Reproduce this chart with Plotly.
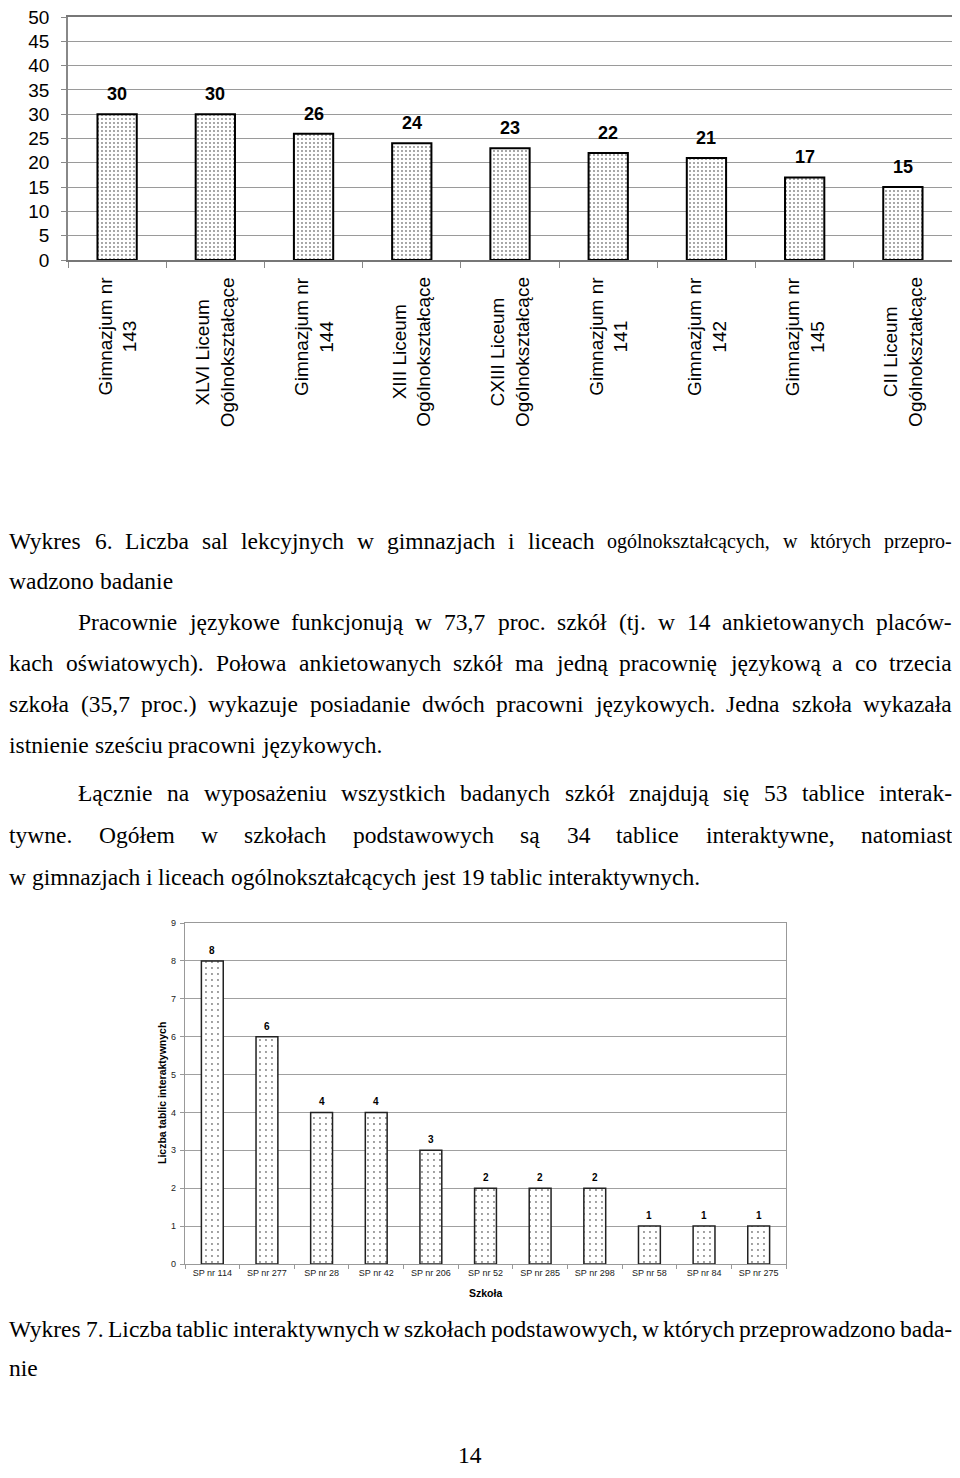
import plotly.graph_objects as go

# The page body has an 8px margin: figure is sized so that it fits the window exactly.
OFF = 8
W, H = 944, 1462
SANS = "Liberation Sans, Arial, sans-serif"
SERIF = "Liberation Serif, Times New Roman, serif"

# ---------------- data ----------------
schools1 = ["Gimnazjum nr 143", "XLVI Liceum Ogólnokształcące", "Gimnazjum nr 144",
            "XIII Liceum Ogólnokształcące", "CXIII Liceum Ogólnokształcące",
            "Gimnazjum nr 141", "Gimnazjum nr 142", "Gimnazjum nr 145",
            "CII Liceum Ogólnokształcące"]
labels1 = ["Gimnazjum nr<br>143", "XLVI Liceum<br>Ogólnokształcące", "Gimnazjum nr<br>144",
           "XIII Liceum<br>Ogólnokształcące", "CXIII Liceum<br>Ogólnokształcące",
           "Gimnazjum nr<br>141", "Gimnazjum nr<br>142", "Gimnazjum nr<br>145",
           "CII Liceum<br>Ogólnokształcące"]
rooms = [30, 30, 26, 24, 23, 22, 21, 17, 15]
yticks1 = [0, 5, 10, 15, 20, 25, 30, 35, 40, 45, 50]

schools2 = ["SP nr 114", "SP nr 277", "SP nr 28", "SP nr 42", "SP nr 206", "SP nr 52",
            "SP nr 285", "SP nr 298", "SP nr 58", "SP nr 84", "SP nr 275"]
boards = [8, 6, 4, 4, 3, 2, 2, 2, 1, 1, 1]
yticks2 = [0, 1, 2, 3, 4, 5, 6, 7, 8, 9]
ytitle2 = "Liczba tablic interaktywnych"
xtitle2 = "Szkoła"

text_lines = [
    "Wykres 6. Liczba sal lekcyjnych w gimnazjach i liceach ogólnokształcących, w których przepro-",
    "wadzono badanie",
    "Pracownie językowe funkcjonują w 73,7 proc. szkół (tj. w 14 ankietowanych placów-",
    "kach oświatowych). Połowa ankietowanych szkół ma jedną pracownię językową a co trzecia",
    "szkoła (35,7 proc.) wykazuje posiadanie dwóch pracowni językowych. Jedna szkoła wykazała",
    "istnienie sześciu pracowni językowych.",
    "Łącznie na wyposażeniu wszystkich badanych szkół znajdują się 53 tablice interak-",
    "tywne. Ogółem w szkołach podstawowych są 34 tablice interaktywne, natomiast",
    "w gimnazjach i liceach ogólnokształcących jest 19 tablic interaktywnych.",
    "Wykres 7. Liczba tablic interaktywnych w szkołach podstawowych, w których przeprowadzono bada-",
    "nie",
]
page_number = "14"

# layout of the text lines (page px): (center y, left x, justified, index of first smaller word)
line_layout = [
    (541, 8, True, 9), (581, 8, False, None), (622, 77, True, None), (663, 8, True, None),
    (704, 8, True, None), (745, 8, False, None), (793, 77, True, None), (835, 8, True, None),
    (877, 8, False, None), (1329, 8, True, None), (1368, 8, False, None),
]
RIGHT = 951
FS = 23.5
FS_SMALL = 20

# Times metrics (per 1000 em)
TM = {' ': 250, 'a': 444, 'b': 500, 'c': 444, 'd': 500, 'e': 444, 'f': 333, 'g': 500, 'h': 500,
      'i': 278, 'j': 278, 'k': 500, 'l': 278, 'm': 778, 'n': 500, 'o': 500, 'p': 500, 'q': 500,
      'r': 333, 's': 389, 't': 278, 'u': 500, 'v': 500, 'w': 722, 'x': 500, 'y': 500, 'z': 444,
      'W': 944, 'L': 611, 'P': 556, 'J': 389, 'O': 722, 'Ł': 611, 'ą': 444, 'ę': 444, 'ó': 500,
      'ś': 389, 'ł': 278, 'ż': 444, 'ć': 444, 'ń': 500, 'ź': 444, '.': 250, ',': 250, '(': 333,
      ')': 333, '-': 333}


def tw(s, size):
    return sum(TM.get(ch, 500) for ch in s) / 1000.0 * size


def px(xpage):
    return (xpage - OFF) / W


def py(ypage):
    return (H - (ypage - OFF)) / H


fig = go.Figure()

fig.add_trace(go.Bar(
    x=schools1, y=rooms, xaxis="x", yaxis="y", width=0.4,
    marker=dict(color="white", line=dict(color="black", width=2),
                pattern=dict(shape=".", size=4, solidity=0.16, fgcolor="black",
                             bgcolor="white", fillmode="overlay")),
    showlegend=False, hoverinfo="x+y"))

fig.add_trace(go.Bar(
    x=schools2, y=boards, xaxis="x2", yaxis="y2", width=0.4,
    marker=dict(color="white", line=dict(color="#222", width=1.5),
                pattern=dict(shape=".", size=6, solidity=0.08, fgcolor="black",
                             bgcolor="white", fillmode="overlay")),
    showlegend=False, hoverinfo="x+y"))

ann = []
# value labels chart 1
for s, v in zip(schools1, rooms):
    ann.append(dict(x=s, y=v, xref="x", yref="y", text=str(v), showarrow=False,
                    yanchor="bottom", yshift=8, font=dict(family=SANS, size=18, color="black",
                                                          weight="bold")))
# category labels chart 1
for s, lab in zip(schools1, labels1):
    ann.append(dict(x=s, y=py(275), xref="x", yref="paper", text=lab, showarrow=False,
                    textangle=-90, yanchor="top", xanchor="center", align="center",
                    font=dict(family=SANS, size=19, color="black")))
# value labels chart 2
for s, v in zip(schools2, boards):
    ann.append(dict(x=s, y=v, xref="x2", yref="y2", text=str(v), showarrow=False,
                    yanchor="bottom", yshift=3, font=dict(family=SANS, size=10, color="black",
                                                          weight="bold")))
ann.append(dict(x=px(162), y=py(1093), xref="paper", yref="paper", text=ytitle2,
                showarrow=False, textangle=-90, xanchor="center", yanchor="middle",
                font=dict(family=SANS, size=10.5, color="black", weight="bold")))
ann.append(dict(x=px(485), y=py(1293), xref="paper", yref="paper", text=xtitle2,
                showarrow=False, xanchor="center", yanchor="middle",
                font=dict(family=SANS, size=10.5, color="black", weight="bold")))

# body text, justified word by word
for line, (yc, x0, just, small_from) in zip(text_lines, line_layout):
    words = line.split(" ")
    sizes = [FS_SMALL if (small_from is not None and i >= small_from) else FS
             for i in range(len(words))]
    widths = [tw(w, s) for w, s in zip(words, sizes)]
    if just and len(words) > 1:
        gap = (RIGHT - x0 - sum(widths)) / (len(words) - 1)
    else:
        gap = tw(" ", FS)
    x = x0
    for w, s, wd in zip(words, sizes, widths):
        ann.append(dict(x=px(x), y=py(yc), xref="paper", yref="paper", text=w,
                        showarrow=False, xanchor="left", yanchor="middle", borderpad=0,
                        font=dict(family=SERIF, size=s, color="black")))
        x += wd + gap

ann.append(dict(x=px(470), y=py(1455), xref="paper", yref="paper", text=page_number,
                showarrow=False, xanchor="center", yanchor="middle",
                font=dict(family=SERIF, size=FS, color="black")))

fig.update_layout(
    width=W, height=H, margin=dict(l=0, r=0, t=0, b=0, autoexpand=False),
    paper_bgcolor="white", plot_bgcolor="white", bargap=0.6,
    annotations=ann,
    xaxis=dict(domain=[px(68), px(952)], anchor="y", type="category", showgrid=False,
               showticklabels=False, ticks="outside", tickson="boundaries", ticklen=6,
               tickcolor="#888", showline=True, linecolor="#777", linewidth=2, mirror=True,
               range=[-0.5, 8.5], fixedrange=True, automargin=False),
    yaxis=dict(domain=[py(260), py(17)], anchor="x", range=[0, 50], tickvals=yticks1,
               showgrid=True, gridcolor="#9a9a9a", gridwidth=1.2, zeroline=False,
               showline=True, linecolor="#888", linewidth=1.5, mirror=True,
               ticks="outside", ticklen=5, tickcolor="#888", ticklabelstandoff=8,
               ticklabeloverflow="allow",
               tickfont=dict(family=SANS, size=19, color="black"), fixedrange=True,
               automargin=False),
    xaxis2=dict(domain=[px(185), px(786)], anchor="y2", type="category", showgrid=False,
                ticks="outside", tickson="boundaries", ticklen=4, tickcolor="#999",
                showline=True, linecolor="#999", linewidth=1.2, mirror=True,
                range=[-0.5, 10.5], tickfont=dict(family=SANS, size=9, color="#222"),
                fixedrange=True, automargin=False),
    yaxis2=dict(domain=[py(1264), py(923)], anchor="x2", range=[0, 9], tickvals=yticks2,
                showgrid=True, gridcolor="#a0a0a0", gridwidth=1, zeroline=False,
                showline=True, linecolor="#999", linewidth=1.2, mirror=True,
                ticks="outside", ticklen=4, tickcolor="#999", ticklabelstandoff=2,
                tickfont=dict(family=SANS, size=9, color="#222"), fixedrange=True,
                automargin=False),
)

fig.write_html("out.html")
